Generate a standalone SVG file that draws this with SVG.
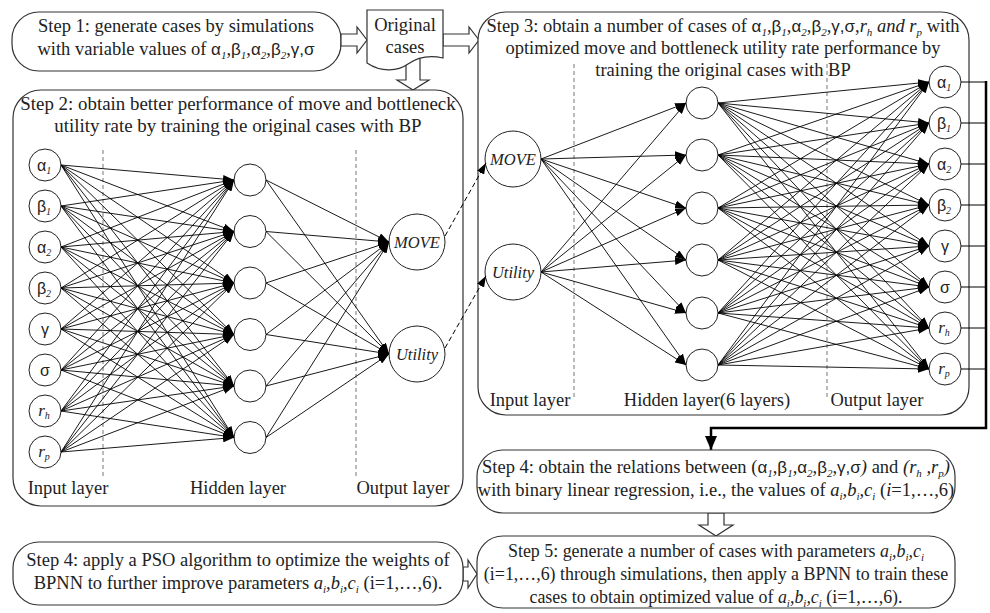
<svg xmlns="http://www.w3.org/2000/svg" width="990" height="613" viewBox="0 0 990 613">
<style>
.box{fill:#fff;stroke:#333;stroke-width:1.2}
.harr{fill:#fff;stroke:#333;stroke-width:1.2}
.t{font-family:"Liberation Serif",serif;font-size:18.5px;fill:#222;text-anchor:middle}
.t2{font-size:18.9px}
.t5{font-size:17.9px}
.g{font-family:"Liberation Sans",sans-serif;font-size:17px}
.s{font-size:11px;font-style:italic}
.i{font-style:italic}
.nd{fill:#fff;stroke:#222;stroke-width:1}
.gn{font-family:"Liberation Sans",sans-serif;font-size:16px;fill:#222;text-anchor:middle}
.rn{font-family:"Liberation Serif",serif;font-style:italic;font-size:17px;fill:#222;text-anchor:middle}
.ns{font-size:10px;font-style:italic;font-family:"Liberation Serif",serif}
.on{font-family:"Liberation Serif",serif;font-style:italic;font-size:16.5px;fill:#222;text-anchor:middle}
.dl{stroke:#777;stroke-width:1;stroke-dasharray:4,3;fill:none}
.c line{stroke:#000;stroke-width:0.9;marker-end:url(#ah)}
.dc{stroke:#000;stroke-width:1;stroke-dasharray:5,3;fill:none;marker-end:url(#ah)}
.lab{font-family:"Liberation Serif",serif;font-size:18.5px;fill:#222;text-anchor:middle}
</style>
<defs>
<marker id="ah" markerUnits="userSpaceOnUse" markerWidth="11" markerHeight="8" refX="11" refY="4" orient="auto"><path d="M0,0 L11,4 L0,8 Z" fill="#000"/></marker>
<marker id="ahb" markerUnits="userSpaceOnUse" markerWidth="14" markerHeight="12" refX="14" refY="6" orient="auto"><path d="M0,0 L14,6 L0,12 Z" fill="#000"/></marker>
</defs>

<!-- Step 1 -->
<g id="step1">
<rect class="box" x="12" y="12" width="329" height="59" rx="27"/>
<text class="t" x="176" y="32">Step 1: generate cases by simulations</text>
<text class="t" x="176" y="55">with variable values of <tspan class="g">α</tspan><tspan class="s" dy="4">1</tspan><tspan dy="-4">,</tspan><tspan class="g">β</tspan><tspan class="s" dy="4">1</tspan><tspan dy="-4">,</tspan><tspan class="g">α</tspan><tspan class="s" dy="4">2</tspan><tspan dy="-4">,</tspan><tspan class="g">β</tspan><tspan class="s" dy="4">2</tspan><tspan dy="-4">,</tspan><tspan class="g">γ,σ</tspan></text>
</g>

<!-- hollow arrows -->
<g id="hollow-arrows">
<path class="harr" d="M341,34 H357 V27 L367,40 L357,53 V46 H341 Z"/>
<path class="harr" d="M443,34 H469 V27 L479,40 L469,53 V46 H443 Z"/>
<path class="harr" d="M406,58 V80 H397 L413,90 L429,80 H420 V58 Z"/>
<path class="harr" d="M708,513 V525 H699 L716,536 L733,525 H724 V513 Z"/>
<path class="harr" d="M463,567 H468 V560 L477,574 L468,588 V581 H463 Z"/>
</g>

<!-- Original cases document -->
<g id="original-cases">
<path class="box" d="M367,10 H443 V58 C430,55 418,57 408,64 C398,71 382,73 367,63 Z"/>
<text class="t" x="405" y="31">Original</text>
<text class="t" x="405" y="53">cases</text>
</g>

<!-- Step 2 -->
<g id="step2">
<rect class="box" x="13" y="90" width="450" height="416" rx="28"/>
<text class="t t2" x="238" y="110">Step 2: obtain better performance of move and bottleneck</text>
<text class="t t2" x="238" y="132">utility rate by training the original cases with BP</text>
<line class="dl" x1="103" y1="150" x2="103" y2="478"/>
<line class="dl" x1="356" y1="150" x2="356" y2="478"/>
<text class="lab" x="68" y="494">Input layer</text>
<text class="lab" x="238" y="494">Hidden layer</text>
<text class="lab" x="403" y="494">Output layer</text>
</g>

<g id="s2-inputs">
<circle class="nd" cx="45" cy="165" r="16"/><text class="gn" x="44" y="171">α<tspan class="ns" dy="3">1</tspan></text>
<circle class="nd" cx="45" cy="206" r="16"/><text class="gn" x="44" y="212">β<tspan class="ns" dy="3">1</tspan></text>
<circle class="nd" cx="45" cy="247" r="16"/><text class="gn" x="44" y="253">α<tspan class="ns" dy="3">2</tspan></text>
<circle class="nd" cx="45" cy="288" r="16"/><text class="gn" x="44" y="294">β<tspan class="ns" dy="3">2</tspan></text>
<circle class="nd" cx="45" cy="329" r="16"/><text class="gn" x="45" y="335">γ</text>
<circle class="nd" cx="45" cy="370" r="16"/><text class="gn" x="45" y="376">σ</text>
<circle class="nd" cx="45" cy="411" r="16"/><text class="rn" x="44" y="416">r<tspan class="ns" dy="3">h</tspan></text>
<circle class="nd" cx="45" cy="452" r="16"/><text class="rn" x="44" y="457">r<tspan class="ns" dy="3">p</tspan></text>
</g>
<g id="s2-hidden">
<circle class="nd" cx="250" cy="180" r="16"/>
<circle class="nd" cx="250" cy="231.5" r="16"/>
<circle class="nd" cx="250" cy="283" r="16"/>
<circle class="nd" cx="250" cy="334.5" r="16"/>
<circle class="nd" cx="250" cy="386" r="16"/>
<circle class="nd" cx="250" cy="437.5" r="16"/>
</g>
<g id="s2-outputs">
<circle class="nd" cx="417" cy="242" r="28"/><text class="on" x="417" y="248">MOVE</text>
<circle class="nd" cx="417" cy="354" r="28"/><text class="on" x="417" y="360">Utility</text>
</g>

<g id="s2-connectors" class="c">
<line x1="61" y1="165" x2="234" y2="180"/><line x1="61" y1="165" x2="234" y2="231.5"/><line x1="61" y1="165" x2="234" y2="283"/><line x1="61" y1="165" x2="234" y2="334.5"/><line x1="61" y1="165" x2="234" y2="386"/><line x1="61" y1="165" x2="234" y2="437.5"/>
<line x1="61" y1="206" x2="234" y2="180"/><line x1="61" y1="206" x2="234" y2="231.5"/><line x1="61" y1="206" x2="234" y2="283"/><line x1="61" y1="206" x2="234" y2="334.5"/><line x1="61" y1="206" x2="234" y2="386"/><line x1="61" y1="206" x2="234" y2="437.5"/>
<line x1="61" y1="247" x2="234" y2="180"/><line x1="61" y1="247" x2="234" y2="231.5"/><line x1="61" y1="247" x2="234" y2="283"/><line x1="61" y1="247" x2="234" y2="334.5"/><line x1="61" y1="247" x2="234" y2="386"/><line x1="61" y1="247" x2="234" y2="437.5"/>
<line x1="61" y1="288" x2="234" y2="180"/><line x1="61" y1="288" x2="234" y2="231.5"/><line x1="61" y1="288" x2="234" y2="283"/><line x1="61" y1="288" x2="234" y2="334.5"/><line x1="61" y1="288" x2="234" y2="386"/><line x1="61" y1="288" x2="234" y2="437.5"/>
<line x1="61" y1="329" x2="234" y2="180"/><line x1="61" y1="329" x2="234" y2="231.5"/><line x1="61" y1="329" x2="234" y2="283"/><line x1="61" y1="329" x2="234" y2="334.5"/><line x1="61" y1="329" x2="234" y2="386"/><line x1="61" y1="329" x2="234" y2="437.5"/>
<line x1="61" y1="370" x2="234" y2="180"/><line x1="61" y1="370" x2="234" y2="231.5"/><line x1="61" y1="370" x2="234" y2="283"/><line x1="61" y1="370" x2="234" y2="334.5"/><line x1="61" y1="370" x2="234" y2="386"/><line x1="61" y1="370" x2="234" y2="437.5"/>
<line x1="61" y1="411" x2="234" y2="180"/><line x1="61" y1="411" x2="234" y2="231.5"/><line x1="61" y1="411" x2="234" y2="283"/><line x1="61" y1="411" x2="234" y2="334.5"/><line x1="61" y1="411" x2="234" y2="386"/><line x1="61" y1="411" x2="234" y2="437.5"/>
<line x1="61" y1="452" x2="234" y2="180"/><line x1="61" y1="452" x2="234" y2="231.5"/><line x1="61" y1="452" x2="234" y2="283"/><line x1="61" y1="452" x2="234" y2="334.5"/><line x1="61" y1="452" x2="234" y2="386"/><line x1="61" y1="452" x2="234" y2="437.5"/>
<line x1="266" y1="180" x2="389" y2="242"/><line x1="266" y1="231.5" x2="389" y2="242"/><line x1="266" y1="283" x2="389" y2="242"/><line x1="266" y1="334.5" x2="389" y2="242"/><line x1="266" y1="386" x2="389" y2="242"/><line x1="266" y1="437.5" x2="389" y2="242"/>
<line x1="266" y1="180" x2="389" y2="354"/><line x1="266" y1="231.5" x2="389" y2="354"/><line x1="266" y1="283" x2="389" y2="354"/><line x1="266" y1="334.5" x2="389" y2="354"/><line x1="266" y1="386" x2="389" y2="354"/><line x1="266" y1="437.5" x2="389" y2="354"/>
</g>

<!-- Step 3 -->
<g id="step3">
<rect class="box" x="478" y="12" width="491" height="403" rx="28"/>
<text class="t" x="723" y="32">Step 3: obtain a number of cases of <tspan class="g">α</tspan><tspan class="s" dy="4">1</tspan><tspan dy="-4">,</tspan><tspan class="g">β</tspan><tspan class="s" dy="4">1</tspan><tspan dy="-4">,</tspan><tspan class="g">α</tspan><tspan class="s" dy="4">2</tspan><tspan dy="-4">,</tspan><tspan class="g">β</tspan><tspan class="s" dy="4">2</tspan><tspan dy="-4">,</tspan><tspan class="g">γ,σ</tspan>,<tspan class="i">r</tspan><tspan class="s" dy="4">h</tspan><tspan class="i" dy="-4"> and r</tspan><tspan class="s" dy="4">p</tspan><tspan dy="-4"> with</tspan></text>
<text class="t" x="723" y="54">optimized move and bottleneck utility rate performance by</text>
<text class="t" x="723" y="76">training the original cases with BP</text>
<line class="dl" x1="574" y1="64" x2="574" y2="398"/>
<line class="dl" x1="827" y1="64" x2="827" y2="398"/>
<text class="lab" x="530" y="406">Input layer</text>
<text class="lab" x="707" y="406">Hidden layer(6 layers)</text>
<text class="lab" x="877" y="406">Output layer</text>
</g>

<g id="s3-inputs">
<circle class="nd" cx="513" cy="159" r="28"/><text class="on" x="513" y="165">MOVE</text>
<circle class="nd" cx="513" cy="272" r="28"/><text class="on" x="513" y="278">Utility</text>
</g>
<g id="s3-hidden">
<circle class="nd" cx="702" cy="103" r="16"/>
<circle class="nd" cx="702" cy="155" r="16"/>
<circle class="nd" cx="702" cy="208" r="16"/>
<circle class="nd" cx="702" cy="260" r="16"/>
<circle class="nd" cx="702" cy="313" r="16"/>
<circle class="nd" cx="702" cy="365" r="16"/>
</g>
<g id="s3-outputs">
<circle class="nd" cx="945" cy="82" r="16"/><text class="gn" x="944" y="88">α<tspan class="ns" dy="3">1</tspan></text>
<circle class="nd" cx="945" cy="123" r="16"/><text class="gn" x="944" y="129">β<tspan class="ns" dy="3">1</tspan></text>
<circle class="nd" cx="945" cy="164" r="16"/><text class="gn" x="944" y="170">α<tspan class="ns" dy="3">2</tspan></text>
<circle class="nd" cx="945" cy="205" r="16"/><text class="gn" x="944" y="211">β<tspan class="ns" dy="3">2</tspan></text>
<circle class="nd" cx="945" cy="246" r="16"/><text class="gn" x="945" y="252">γ</text>
<circle class="nd" cx="945" cy="287" r="16"/><text class="gn" x="945" y="293">σ</text>
<circle class="nd" cx="945" cy="328" r="16"/><text class="rn" x="944" y="333">r<tspan class="ns" dy="3">h</tspan></text>
<circle class="nd" cx="945" cy="369" r="16"/><text class="rn" x="944" y="374">r<tspan class="ns" dy="3">p</tspan></text>
</g>

<g id="s3-connectors" class="c">
<line x1="541" y1="159" x2="686" y2="103"/><line x1="541" y1="159" x2="686" y2="155"/><line x1="541" y1="159" x2="686" y2="208"/><line x1="541" y1="159" x2="686" y2="260"/><line x1="541" y1="159" x2="686" y2="313"/><line x1="541" y1="159" x2="686" y2="365"/>
<line x1="541" y1="272" x2="686" y2="103"/><line x1="541" y1="272" x2="686" y2="155"/><line x1="541" y1="272" x2="686" y2="208"/><line x1="541" y1="272" x2="686" y2="260"/><line x1="541" y1="272" x2="686" y2="313"/><line x1="541" y1="272" x2="686" y2="365"/>
<line x1="718" y1="103" x2="929" y2="82"/><line x1="718" y1="103" x2="929" y2="123"/><line x1="718" y1="103" x2="929" y2="164"/><line x1="718" y1="103" x2="929" y2="205"/><line x1="718" y1="103" x2="929" y2="246"/><line x1="718" y1="103" x2="929" y2="287"/><line x1="718" y1="103" x2="929" y2="328"/><line x1="718" y1="103" x2="929" y2="369"/>
<line x1="718" y1="155" x2="929" y2="82"/><line x1="718" y1="155" x2="929" y2="123"/><line x1="718" y1="155" x2="929" y2="164"/><line x1="718" y1="155" x2="929" y2="205"/><line x1="718" y1="155" x2="929" y2="246"/><line x1="718" y1="155" x2="929" y2="287"/><line x1="718" y1="155" x2="929" y2="328"/><line x1="718" y1="155" x2="929" y2="369"/>
<line x1="718" y1="208" x2="929" y2="82"/><line x1="718" y1="208" x2="929" y2="123"/><line x1="718" y1="208" x2="929" y2="164"/><line x1="718" y1="208" x2="929" y2="205"/><line x1="718" y1="208" x2="929" y2="246"/><line x1="718" y1="208" x2="929" y2="287"/><line x1="718" y1="208" x2="929" y2="328"/><line x1="718" y1="208" x2="929" y2="369"/>
<line x1="718" y1="260" x2="929" y2="82"/><line x1="718" y1="260" x2="929" y2="123"/><line x1="718" y1="260" x2="929" y2="164"/><line x1="718" y1="260" x2="929" y2="205"/><line x1="718" y1="260" x2="929" y2="246"/><line x1="718" y1="260" x2="929" y2="287"/><line x1="718" y1="260" x2="929" y2="328"/><line x1="718" y1="260" x2="929" y2="369"/>
<line x1="718" y1="313" x2="929" y2="82"/><line x1="718" y1="313" x2="929" y2="123"/><line x1="718" y1="313" x2="929" y2="164"/><line x1="718" y1="313" x2="929" y2="205"/><line x1="718" y1="313" x2="929" y2="246"/><line x1="718" y1="313" x2="929" y2="287"/><line x1="718" y1="313" x2="929" y2="328"/><line x1="718" y1="313" x2="929" y2="369"/>
<line x1="718" y1="365" x2="929" y2="82"/><line x1="718" y1="365" x2="929" y2="123"/><line x1="718" y1="365" x2="929" y2="164"/><line x1="718" y1="365" x2="929" y2="205"/><line x1="718" y1="365" x2="929" y2="246"/><line x1="718" y1="365" x2="929" y2="287"/><line x1="718" y1="365" x2="929" y2="328"/><line x1="718" y1="365" x2="929" y2="369"/>
</g>

<g id="cross-connectors">
<path class="dc" d="M445,236 L486,163"/>
<path class="dc" d="M445,348 L486,276"/>
<g stroke="#000" stroke-width="1" fill="none">
<path d="M961,82 H986 M961,123 H986 M961,164 H986 M961,205 H986 M961,246 H986 M961,287 H986 M961,328 H986 M961,369 H986"/>
</g>
<path d="M986,81 V428 H711 V450" fill="none" stroke="#000" stroke-width="2.5" marker-end="url(#ahb)"/>
</g>

<!-- Step 4 (right) -->
<g id="step4-right">
<rect class="box" x="477" y="450" width="478" height="63" rx="26"/>
<text class="t" x="716" y="473">Step 4: obtain the relations between (<tspan class="g">α</tspan><tspan class="s" dy="4">1</tspan><tspan dy="-4">,</tspan><tspan class="g">β</tspan><tspan class="s" dy="4">1</tspan><tspan dy="-4">,</tspan><tspan class="g">α</tspan><tspan class="s" dy="4">2</tspan><tspan dy="-4">,</tspan><tspan class="g">β</tspan><tspan class="s" dy="4">2</tspan><tspan dy="-4">,</tspan><tspan class="g">γ,σ</tspan><tspan class="i">)</tspan> and <tspan class="i">(r</tspan><tspan class="s" dy="4">h</tspan><tspan class="i" dy="-4"> ,r</tspan><tspan class="s" dy="4">p</tspan><tspan class="i" dy="-4">)</tspan></text>
<text class="t" x="716" y="496">with binary linear regression, i.e., the values of <tspan class="i">a</tspan><tspan class="s" dy="4">i</tspan><tspan class="i" dy="-4">,b</tspan><tspan class="s" dy="4">i</tspan><tspan class="i" dy="-4">,c</tspan><tspan class="s" dy="4">i</tspan><tspan dy="-4"> (</tspan><tspan class="i">i</tspan>=1,…,6)</text>
</g>

<!-- Step 5 -->
<g id="step5">
<rect class="box" x="477" y="536" width="478" height="72" rx="26"/>
<text class="t t5" x="716" y="557">Step 5: generate a number of cases with parameters <tspan class="i">a</tspan><tspan class="s" dy="4">i</tspan><tspan class="i" dy="-4">,b</tspan><tspan class="s" dy="4">i</tspan><tspan class="i" dy="-4">,c</tspan><tspan class="s" dy="4">i</tspan></text>
<text class="t t5" x="716" y="580">(i=1,…,6) through simulations, then apply a BPNN to train these</text>
<text class="t t5" x="716" y="603">cases to obtain optimized value of <tspan class="i">a</tspan><tspan class="s" dy="4">i</tspan><tspan class="i" dy="-4">,b</tspan><tspan class="s" dy="4">i</tspan><tspan class="i" dy="-4">,c</tspan><tspan class="s" dy="4">i</tspan><tspan dy="-4"> (i=1,…,6).</tspan></text>
</g>

<!-- Step 4 (left) -->
<g id="step4-left">
<rect class="box" x="13" y="542" width="450" height="63" rx="26"/>
<text class="t" x="238" y="566">Step 4: apply a PSO algorithm to optimize the weights of</text>
<text class="t" x="238" y="589">BPNN to further improve parameters <tspan class="i">a</tspan><tspan class="s" dy="4">i</tspan><tspan class="i" dy="-4">,b</tspan><tspan class="s" dy="4">i</tspan><tspan class="i" dy="-4">,c</tspan><tspan class="s" dy="4">i</tspan><tspan dy="-4"> (i=1,…,6).</tspan></text>
</g>
</svg>
